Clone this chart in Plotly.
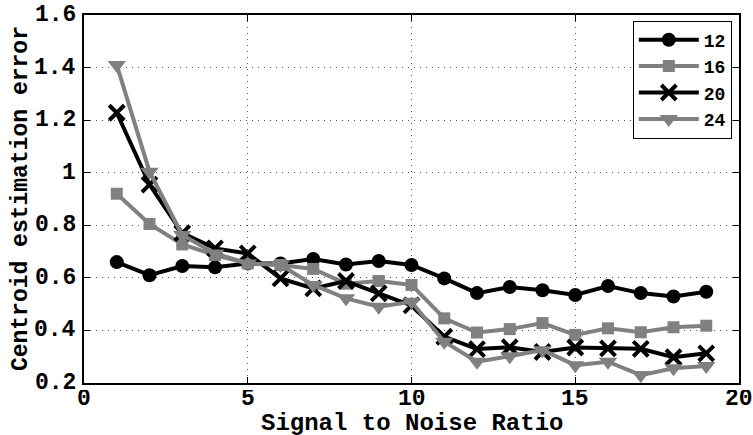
import plotly.graph_objects as go

snr = list(range(1, 20))
err12 = [0.66, 0.61, 0.645, 0.64, 0.655, 0.655, 0.672, 0.651, 0.664, 0.649, 0.598, 0.542, 0.565, 0.553, 0.535, 0.569, 0.542, 0.529, 0.547]
err16 = [0.92, 0.805, 0.727, 0.687, 0.655, 0.649, 0.634, 0.578, 0.588, 0.573, 0.446, 0.392, 0.405, 0.428, 0.383, 0.408, 0.393, 0.412, 0.418]
err20 = [1.228, 0.955, 0.77, 0.712, 0.693, 0.598, 0.56, 0.588, 0.541, 0.495, 0.376, 0.329, 0.336, 0.318, 0.335, 0.332, 0.33, 0.298, 0.313]
err24 = [1.41, 1.004, 0.763, 0.693, 0.655, 0.649, 0.573, 0.522, 0.49, 0.509, 0.357, 0.281, 0.302, 0.325, 0.268, 0.281, 0.23, 0.256, 0.265]
names = ["12", "16", "20", "24"]
xticks = [0, 5, 10, 15, 20]
xticklabels = ["0", "5", "10", "15", "20"]
yticks = [0.2, 0.4, 0.6, 0.8, 1.0, 1.2, 1.4, 1.6]
yticklabels = ["0.2", "0.4", "0.6", "0.8", "1", "1.2", "1.4", "1.6"]
xlabel = "Signal to Noise Ratio"
ylabel = "Centroid estimation error"

BLACK = "#000000"
GRAY = "#808080"
FONT = "Liberation Mono"

fig = go.Figure()
fig.add_trace(go.Scatter(x=snr, y=err12, name=names[0], mode="lines+markers",
                         line=dict(color=BLACK, width=4),
                         marker=dict(symbol="circle", size=14, color=BLACK)))
fig.add_trace(go.Scatter(x=snr, y=err16, name=names[1], mode="lines+markers",
                         line=dict(color=GRAY, width=4),
                         marker=dict(symbol="square", size=12, color=GRAY)))
fig.add_trace(go.Scatter(x=snr, y=err20, name=names[2], mode="lines+markers",
                         line=dict(color=BLACK, width=4),
                         marker=dict(symbol="x-thin", size=15, color=BLACK,
                                     line=dict(color=BLACK, width=4))))
fig.add_trace(go.Scatter(x=snr, y=err24, name=names[3], mode="lines+markers",
                         line=dict(color=GRAY, width=4),
                         marker=dict(symbol="triangle-down", size=16, color=GRAY)))

axis_common = dict(
    showline=True, linecolor=BLACK, linewidth=2, mirror="ticks",
    ticks="inside", ticklen=6, tickcolor=BLACK, tickwidth=1,
    showgrid=True, gridcolor="#555555", griddash="1px,5px", gridwidth=1,
    zeroline=False, automargin=False, showticklabels=False,
)

fig.update_xaxes(range=[0, 20], tickvals=xticks, **axis_common)
fig.update_yaxes(range=[0.2, 1.6], tickvals=yticks, **axis_common)

tick_font = dict(family=FONT, size=23, color=BLACK, weight="bold")
for xv, lab in zip(xticks, xticklabels):
    fig.add_annotation(text=lab, xref="x", yref="paper", x=xv, y=-0.043,
                       xanchor="center", yanchor="middle", showarrow=False,
                       height=18, valign="middle", font=tick_font)
for yv, lab in zip(yticks, yticklabels):
    fig.add_annotation(text=lab, xref="paper", yref="y", x=-0.009, y=yv,
                       xanchor="right", yanchor="middle", showarrow=False,
                       font=tick_font)

fig.add_annotation(text=xlabel, xref="paper", yref="paper", x=0.5, y=-0.11,
                   xanchor="center", yanchor="middle", showarrow=False,
                   height=26, valign="middle",
                   font=dict(family=FONT, size=24, color=BLACK, weight="bold"))
fig.add_annotation(text=ylabel, xref="paper", yref="paper", x=-0.096, y=0.5,
                   xanchor="center", yanchor="middle", showarrow=False, textangle=-90,
                   font=dict(family=FONT, size=23, color=BLACK, weight="bold"))

fig.update_layout(
    width=753, height=435,
    margin=dict(l=84, r=14, t=15, b=52),
    paper_bgcolor="white", plot_bgcolor="white",
    font=dict(family=FONT, color=BLACK, weight="bold"),
    showlegend=True,
    legend=dict(x=0.989, y=0.985, xanchor="right", yanchor="top",
                bgcolor="white", bordercolor=BLACK, borderwidth=1,
                font=dict(family=FONT, size=18, color=BLACK, weight="bold"),
                tracegroupgap=0, itemwidth=60),
)

fig.write_html("out.html")
